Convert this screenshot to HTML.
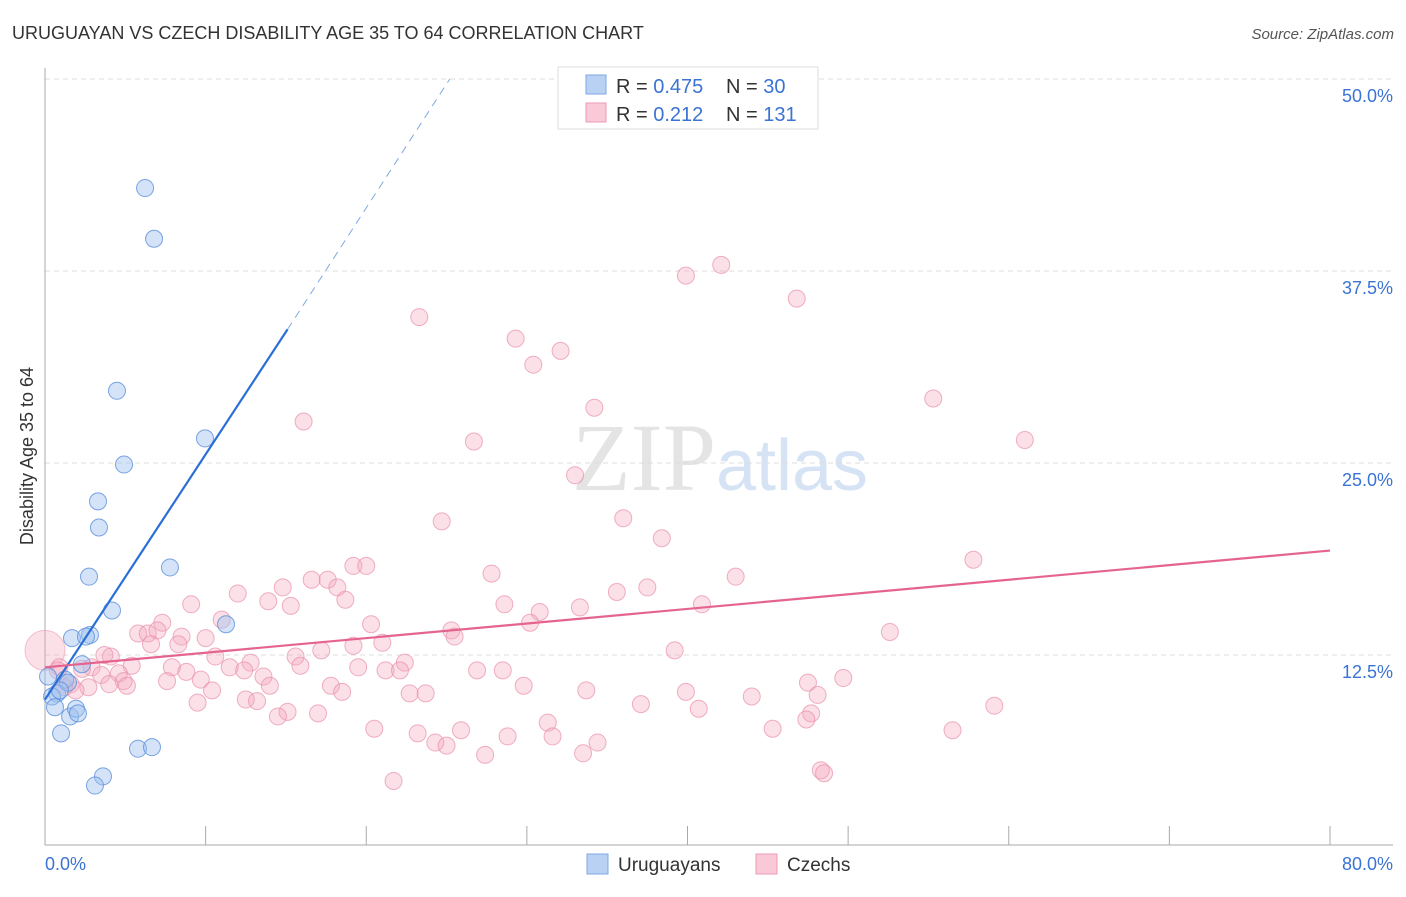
<!DOCTYPE html>
<html><head><meta charset="utf-8"><style>
body{margin:0;background:#fff;width:1406px;height:892px;overflow:hidden;font-family:"Liberation Sans",sans-serif}
svg text{font-family:"Liberation Sans",sans-serif}
</style></head><body>
<svg id="chart" width="1406" height="892">
<text x="12" y="39" font-size="18" fill="#333">URUGUAYAN VS CZECH DISABILITY AGE 35 TO 64 CORRELATION CHART</text>
<text x="1394" y="39" font-size="15" fill="#555" font-style="italic" text-anchor="end">Source: ZipAtlas.com</text>
<text x="720" y="490" font-size="96" fill="#e4e4e4" text-anchor="middle" font-family="Liberation Serif"><tspan font-family="Liberation Serif">ZIP</tspan><tspan fill="#d6e3f5" font-family="Liberation Sans" font-size="72">atlas</tspan></text>
<g id="grid"></g><g id="axes"></g><g id="pts"></g><g id="trend"></g>
<text transform="translate(33,456) rotate(-90)" font-size="18" fill="#333" text-anchor="middle">Disability Age 35 to 64</text>
<g>
<rect x="558" y="67" width="260" height="62" fill="#fff" stroke="#ddd"/>
<rect x="586" y="75" width="20" height="19" fill="#b9d2f3" stroke="#7ea8e4"/>
<rect x="586" y="103" width="20" height="19" fill="#f9c9d7" stroke="#ee9ab4"/>
<text x="616" y="93" font-size="20" fill="#333">R = <tspan fill="#3b73d4">0.475</tspan></text>
<text x="726" y="93" font-size="20" fill="#333">N = <tspan fill="#3b73d4"> 30</tspan></text>
<text x="616" y="121" font-size="20" fill="#333">R = <tspan fill="#3b73d4"> 0.212</tspan></text>
<text x="726" y="121" font-size="20" fill="#333">N = <tspan fill="#3b73d4">131</tspan></text>
</g>
<g>
<rect x="587" y="854" width="21" height="20" fill="#b9d2f3" stroke="#7ea8e4"/>
<text x="618" y="871" font-size="19" fill="#333">Uruguayans</text>
<rect x="756" y="854" width="21" height="20" fill="#f9c9d7" stroke="#ee9ab4"/>
<text x="787" y="871" font-size="19" fill="#333">Czechs</text>
</g>
</svg>
<script>
const xTicks=[0,10,20,30,40,50,60,70,80];
const yTicks=[12.5,25,37.5,50];
const yTickLabels=["12.5%","25.0%","37.5%","50.0%"];
const blueX=[6.23,6.79,4.48,9.96,4.92,3.30,3.36,2.74,7.78,4.17,11.27,1.68,2.80,2.55,2.30,1.25,0.75,0.44,0.62,1.56,1.93,2.05,1.00,5.79,6.66,3.61,3.11,1.43,0.19,0.93];
const blueY=[42.9,39.6,29.7,26.6,24.9,22.5,20.8,17.6,18.2,15.4,14.5,13.6,13.8,13.7,11.9,10.9,10.0,9.8,9.1,8.5,9.0,8.7,7.4,6.4,6.5,4.6,4.0,10.7,11.1,10.2];
const pinkX=[39.9,42.1,46.8,23.3,29.3,32.1,30.4,34.2,55.3,16.1,26.7,61.0,33.0,24.7,36.0,38.4,57.8,27.8,43.0,19.2,20.0,16.6,17.6,18.2,14.8,12.0,13.9,15.3,18.7,9.1,35.6,37.5,28.6,30.8,33.3,40.9,11.0,7.3,20.3,25.3,30.2,25.5,5.8,6.4,8.5,7.0,10.0,52.6,21.0,6.6,8.3,39.2,15.6,17.2,19.2,22.4,10.6,12.8,4.1,3.7,5.4,11.5,15.9,2.9,2.3,0.9,7.9,12.4,19.5,21.2,22.1,26.9,28.5,4.6,3.5,8.8,13.6,9.7,4.9,7.6,47.5,49.7,17.8,5.1,2.7,14.0,18.5,29.8,33.7,10.4,39.9,48.1,44.0,22.7,23.7,9.5,12.5,13.2,37.1,40.7,59.1,15.1,17.0,14.5,47.7,47.4,20.5,23.2,45.3,31.3,25.9,56.5,28.8,31.6,24.3,25.0,34.4,27.4,33.5,48.3,48.5,21.7,0.8,1.6,1.2,1.9,4.0];
const pinkY=[37.2,37.9,35.7,34.5,33.1,32.3,31.4,28.6,29.2,27.7,26.4,26.5,24.2,21.2,21.4,20.1,18.7,17.8,17.6,18.3,18.3,17.4,17.4,16.9,16.9,16.5,16.0,15.7,16.1,15.8,16.6,16.9,15.8,15.3,15.6,15.8,14.8,14.6,14.5,14.1,14.6,13.7,13.9,13.9,13.7,14.1,13.6,14.0,13.3,13.2,13.2,12.8,12.4,12.8,13.1,12.0,12.4,12.0,12.4,12.5,11.8,11.7,11.8,11.7,11.6,11.7,11.7,11.5,11.7,11.5,11.5,11.5,11.5,11.3,11.2,11.4,11.1,10.9,10.8,10.8,10.7,11.0,10.5,10.5,10.4,10.5,10.1,10.5,10.2,10.2,10.1,9.9,9.8,10.0,10.0,9.4,9.6,9.5,9.3,9.0,9.2,8.8,8.7,8.5,8.7,8.3,7.7,7.4,7.7,8.1,7.6,7.6,7.2,7.2,6.8,6.6,6.8,6.0,6.1,5.0,4.8,4.3,11.5,10.6,10.4,10.2,10.6];
const blueTrend=[[0,9.6],[15.1,33.7]];
const blueTrendExt=[[15.1,33.7],[25.2,50]];
const pinkTrend=[[0,11.7],[80,19.3]];
const NS="http://www.w3.org/2000/svg";
const X=v=>45+v/80*1285;
const Y=v=>847-v/12.5*192;
function mk(tag,attrs,parent){const e=document.createElementNS(NS,tag);for(const k in attrs)e.setAttribute(k,attrs[k]);document.getElementById(parent).appendChild(e);return e;}
yTicks.forEach((t,i)=>{
 const g=mk('line',{x1:45,x2:1393,y1:Y(t),y2:Y(t),stroke:'#ddd','stroke-dasharray':'5,4'},'grid');
 
 
 const l=mk('text',{x:1393,y:Y(t)+23,'font-size':18,fill:'#3b73d4','text-anchor':'end'},'grid');
 l.textContent=yTickLabels[i];
 
 
});
const ax=mk('line',{x1:45,x2:45,y1:68,y2:845,stroke:'#aaa'},'axes');


const bx=mk('line',{x1:45,x2:1393,y1:845,y2:845,stroke:'#aaa'},'axes');


xTicks.forEach(t=>{
 const tk=mk('line',{x1:X(t),x2:X(t),y1:826,y2:845,stroke:'#aaa'},'axes');
 
 
});
const xl0=mk('text',{x:45,y:870,'font-size':18,fill:'#3b73d4'},'axes');xl0.textContent=xTicks[0].toFixed(1)+'%';


const xl1=mk('text',{x:1393,y:870,'font-size':18,fill:'#3b73d4','text-anchor':'end'},'axes');xl1.textContent=xTicks[xTicks.length-1].toFixed(1)+'%';


const big=mk('circle',{cx:X(0),cy:Y(12.8),r:20,fill:'#f4a6bd','fill-opacity':0.35,stroke:'#ee9ab4','stroke-opacity':0.6},'pts');


pinkX.forEach((v,i)=>{
 const c=mk('circle',{cx:X(v),cy:Y(pinkY[i]),r:8.5,fill:'#f4a6bd','fill-opacity':0.35,stroke:'#ea8fab','stroke-opacity':0.7},'pts');
 
 
});
blueX.forEach((v,i)=>{
 const c=mk('circle',{cx:X(v),cy:Y(blueY[i]),r:8.5,fill:'#9fc1ee','fill-opacity':0.45,stroke:'#5b8fdc','stroke-opacity':0.8},'pts');
 
 
});
const bt=mk('line',{x1:X(blueTrend[0][0]),y1:Y(blueTrend[0][1]),x2:X(blueTrend[1][0]),y2:Y(blueTrend[1][1]),stroke:'#2a6fd6','stroke-width':2.2},'trend');


const be=mk('line',{x1:X(blueTrendExt[0][0]),y1:Y(blueTrendExt[0][1]),x2:X(blueTrendExt[1][0]),y2:Y(blueTrendExt[1][1]),stroke:'#7ea8e4','stroke-width':1,'stroke-dasharray':'8,6'},'trend');


const pt=mk('line',{x1:X(pinkTrend[0][0]),y1:Y(pinkTrend[0][1]),x2:X(pinkTrend[1][0]),y2:Y(pinkTrend[1][1]),stroke:'#e5648f','stroke-width':2.2},'trend');


</script>
</body></html>
